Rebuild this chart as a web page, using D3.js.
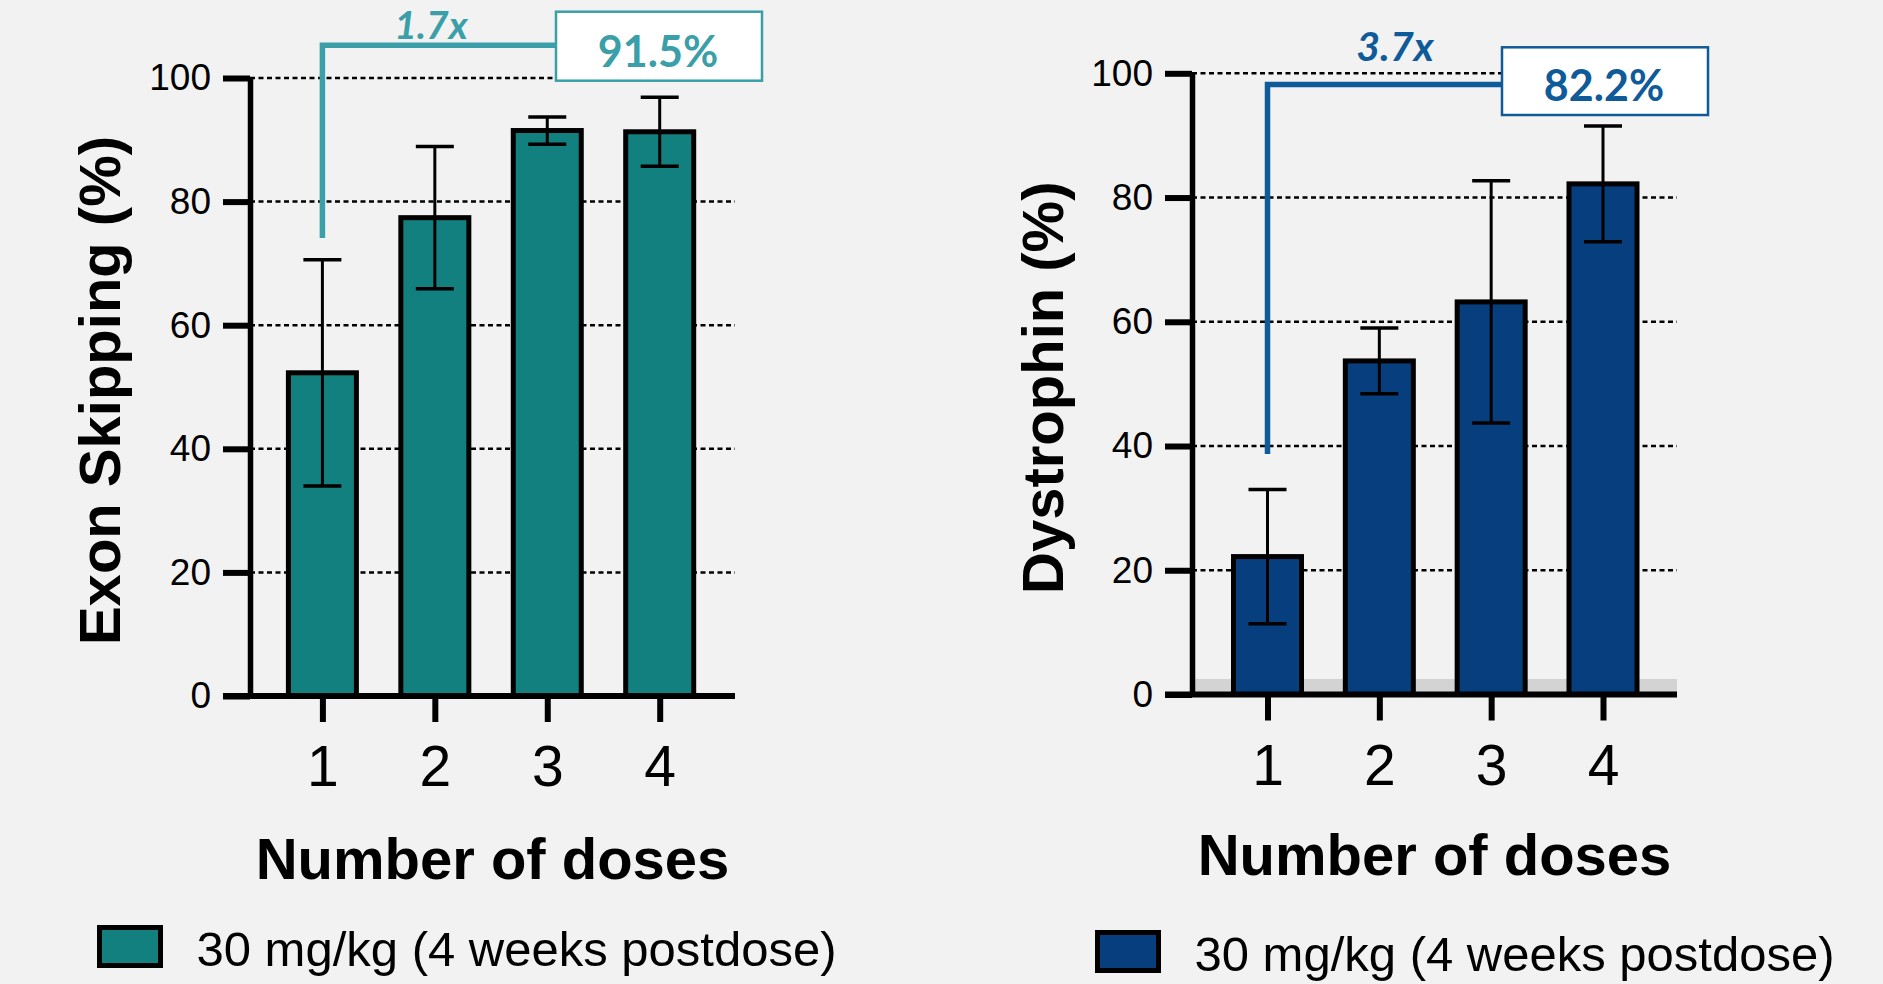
<!DOCTYPE html>
<html>
<head>
<meta charset="utf-8">
<script src="https://cdn.jsdelivr.net/npm/d3@7"></script>
<style>
  html, body { margin: 0; padding: 0; background: #f2f2f2; }
  svg { display: block; }
</style>
</head>
<body>
<svg id="chart" width="1883" height="984"></svg>
<script>
// ---------- data ----------
const categories = [1, 2, 3, 4];
const yTicks = [0, 20, 40, 60, 80, 100];
const exonMeans = [52.3, 77.4, 91.5, 91.3];
const exonSD = [18.3, 11.5, 2.2, 5.6];
const dysMeans = [22.2, 53.7, 63.2, 82.2];
const dysSD = [10.8, 5.3, 19.5, 9.3];
const dysLLOQ = 2.5;
const exonTitle = "Exon Skipping (%)";
const dysTitle = "Dystrophin (%)";
const xTitle = "Number of doses";
const legendLabel = "30 mg/kg (4 weeks postdose)";
const exonFold = "1.7x";
const exonMax = "91.5%";
const dysFold = "3.7x";
const dysMax = "82.2%";

// ---------- drawing ----------
const svg = d3.select("#chart");
svg.append("rect").attr("width", 1883).attr("height", 984).attr("fill", "#f2f2f2");

const ARIAL = "'Liberation Sans', Arial, Helvetica, sans-serif";
const LATO = "Lato, 'Open Sans', sans-serif";
const BW = 68;

function drawPanel(cfg) {
  const g = svg.append("g");
  const x = d3.scalePoint().domain(categories).range(cfg.xRange);
  const y = d3.scaleLinear().domain([0, 100]).range([cfg.y0, cfg.y100]);

  if (cfg.band) {
    g.append("rect")
      .attr("x", cfg.axisX).attr("y", y(cfg.band))
      .attr("width", cfg.axisEnd - cfg.axisX).attr("height", y(0) - y(cfg.band))
      .attr("fill", "#d3d3d3");
  }

  // gridlines
  g.selectAll("line.grid").data(yTicks.filter(t => t > 0)).join("line")
    .attr("class", "grid")
    .attr("x1", cfg.axisX).attr("x2", cfg.axisEnd)
    .attr("y1", d => y(d)).attr("y2", d => y(d))
    .attr("stroke", "#000").attr("stroke-width", 2.5)
    .attr("stroke-dasharray", "5,3.5");

  // bars
  g.selectAll("rect.bar").data(cfg.means).join("rect")
    .attr("class", "bar")
    .attr("x", (d, i) => x(categories[i]) - BW / 2)
    .attr("y", d => y(d))
    .attr("width", BW)
    .attr("height", d => y(0) - y(d))
    .attr("fill", cfg.color)
    .attr("stroke", "#000").attr("stroke-width", 5);

  // error bars
  const eb = g.selectAll("g.eb").data(cfg.means).join("g").attr("class", "eb");
  eb.append("line")
    .attr("x1", (d, i) => x(categories[i])).attr("x2", (d, i) => x(categories[i]))
    .attr("y1", (d, i) => y(d + cfg.sd[i])).attr("y2", (d, i) => y(d - cfg.sd[i]))
    .attr("stroke", "#000").attr("stroke-width", 3);
  [1, -1].forEach(s => {
    eb.append("line")
      .attr("x1", (d, i) => x(categories[i]) - 19).attr("x2", (d, i) => x(categories[i]) + 19)
      .attr("y1", (d, i) => y(d + s * cfg.sd[i])).attr("y2", (d, i) => y(d + s * cfg.sd[i]))
      .attr("stroke", "#000").attr("stroke-width", 3.5);
  });

  // x baseline
  g.append("line")
    .attr("x1", cfg.axisX - 27).attr("x2", cfg.axisEnd)
    .attr("y1", y(0)).attr("y2", y(0))
    .attr("stroke", "#000").attr("stroke-width", 6);

  // y axis
  const ya = g.append("g").attr("transform", `translate(${cfg.axisX},0)`)
    .call(d3.axisLeft(y).tickValues(yTicks).tickSize(27).tickPadding(12).tickSizeOuter(0));
  ya.attr("font-size", 37).attr("font-family", ARIAL);
  ya.select(".domain").attr("stroke", "#000").attr("stroke-width", 5.5);
  ya.selectAll(".tick line").attr("stroke", "#000").attr("stroke-width", 6);
  ya.selectAll(".tick text").attr("fill", "#000");

  // x axis ticks
  const xa = g.append("g").attr("transform", `translate(0,${y(0)})`)
    .call(d3.axisBottom(x).tickSize(26).tickPadding(24));
  xa.attr("font-size", 57).attr("font-family", ARIAL);
  xa.select(".domain").remove();
  xa.selectAll(".tick line").attr("stroke", "#000").attr("stroke-width", 6);
  xa.selectAll(".tick text").attr("fill", "#000");

  // axis titles
  g.append("text")
    .attr("transform", `translate(${cfg.yTitleX},${cfg.yTitleY}) rotate(-90)`)
    .attr("text-anchor", "middle")
    .attr("font-family", ARIAL).attr("font-weight", "bold").attr("font-size", 58)
    .attr("fill", "#000").text(cfg.yTitle);
  g.append("text")
    .attr("x", (cfg.axisX + cfg.axisEnd) / 2).attr("y", cfg.xTitleY)
    .attr("text-anchor", "middle")
    .attr("font-family", ARIAL).attr("font-weight", "bold").attr("font-size", 58)
    .attr("fill", "#000").text(xTitle);

  // legend
  g.append("rect")
    .attr("x", cfg.legX).attr("y", cfg.legY).attr("width", 61).attr("height", 38)
    .attr("fill", cfg.color).attr("stroke", "#000").attr("stroke-width", 5);
  g.append("text")
    .attr("x", cfg.legX + 97).attr("y", cfg.legY + 38)
    .attr("font-family", ARIAL).attr("font-size", 49).attr("fill", "#000")
    .text(legendLabel);

  // annotation bracket
  const a = cfg.ann;
  const bx = x(categories[0]);
  g.append("path")
    .attr("d", `M${bx},${y(a.from)} V${y(a.to)} H${a.boxX}`)
    .attr("fill", "none").attr("stroke", a.color).attr("stroke-width", 5.5);
  g.append("rect")
    .attr("x", a.boxX).attr("y", a.boxY).attr("width", a.boxW).attr("height", a.boxH)
    .attr("fill", "#fff").attr("stroke", a.color).attr("stroke-width", 2.5);
  g.append("text")
    .attr("x", a.boxX + a.boxW / 2 - 1).attr("y", a.boxY + a.boxH - 14)
    .attr("text-anchor", "middle")
    .attr("font-family", LATO).attr("font-weight", "bold").attr("font-size", 43)
    .attr("fill", a.color).text(a.max);
  g.append("text")
    .attr("x", a.foldX).attr("y", y(a.to) - a.foldGap)
    .attr("text-anchor", "middle")
    .attr("font-family", LATO).attr("font-weight", "bold").attr("font-style", "italic")
    .attr("font-size", a.foldSize)
    .attr("fill", a.color).text(a.fold);
}

drawPanel({
  means: exonMeans, sd: exonSD, color: "#12807e",
  xRange: [322.4, 659.7], y0: 696, y100: 78, axisX: 250, axisEnd: 735,
  yTitle: exonTitle, yTitleX: 120, yTitleY: 390.5, xTitleY: 878.6,
  legX: 99.5, legY: 927.5,
  ann: { color: "#3a9fa9", from: 74.1, to: 105.3, boxX: 556, boxY: 11.7, boxW: 206, boxH: 69,
         max: exonMax, fold: exonFold, foldX: 431, foldGap: 6, foldSize: 39 }
});

drawPanel({
  means: dysMeans, sd: dysSD, color: "#073f7e", band: dysLLOQ,
  xRange: [1267.5, 1603], y0: 694.5, y100: 73.3, axisX: 1192, axisEnd: 1677,
  yTitle: dysTitle, yTitleX: 1063, yTitleY: 387.7, xTitleY: 875,
  legX: 1097.5, legY: 932.5,
  ann: { color: "#0f5a99", from: 38.7, to: 98.2, boxX: 1502, boxY: 47.3, boxW: 206, boxH: 67.7,
         max: dysMax, fold: dysFold, foldX: 1395, foldGap: 23, foldSize: 41 }
});
</script>
</body>
</html>
